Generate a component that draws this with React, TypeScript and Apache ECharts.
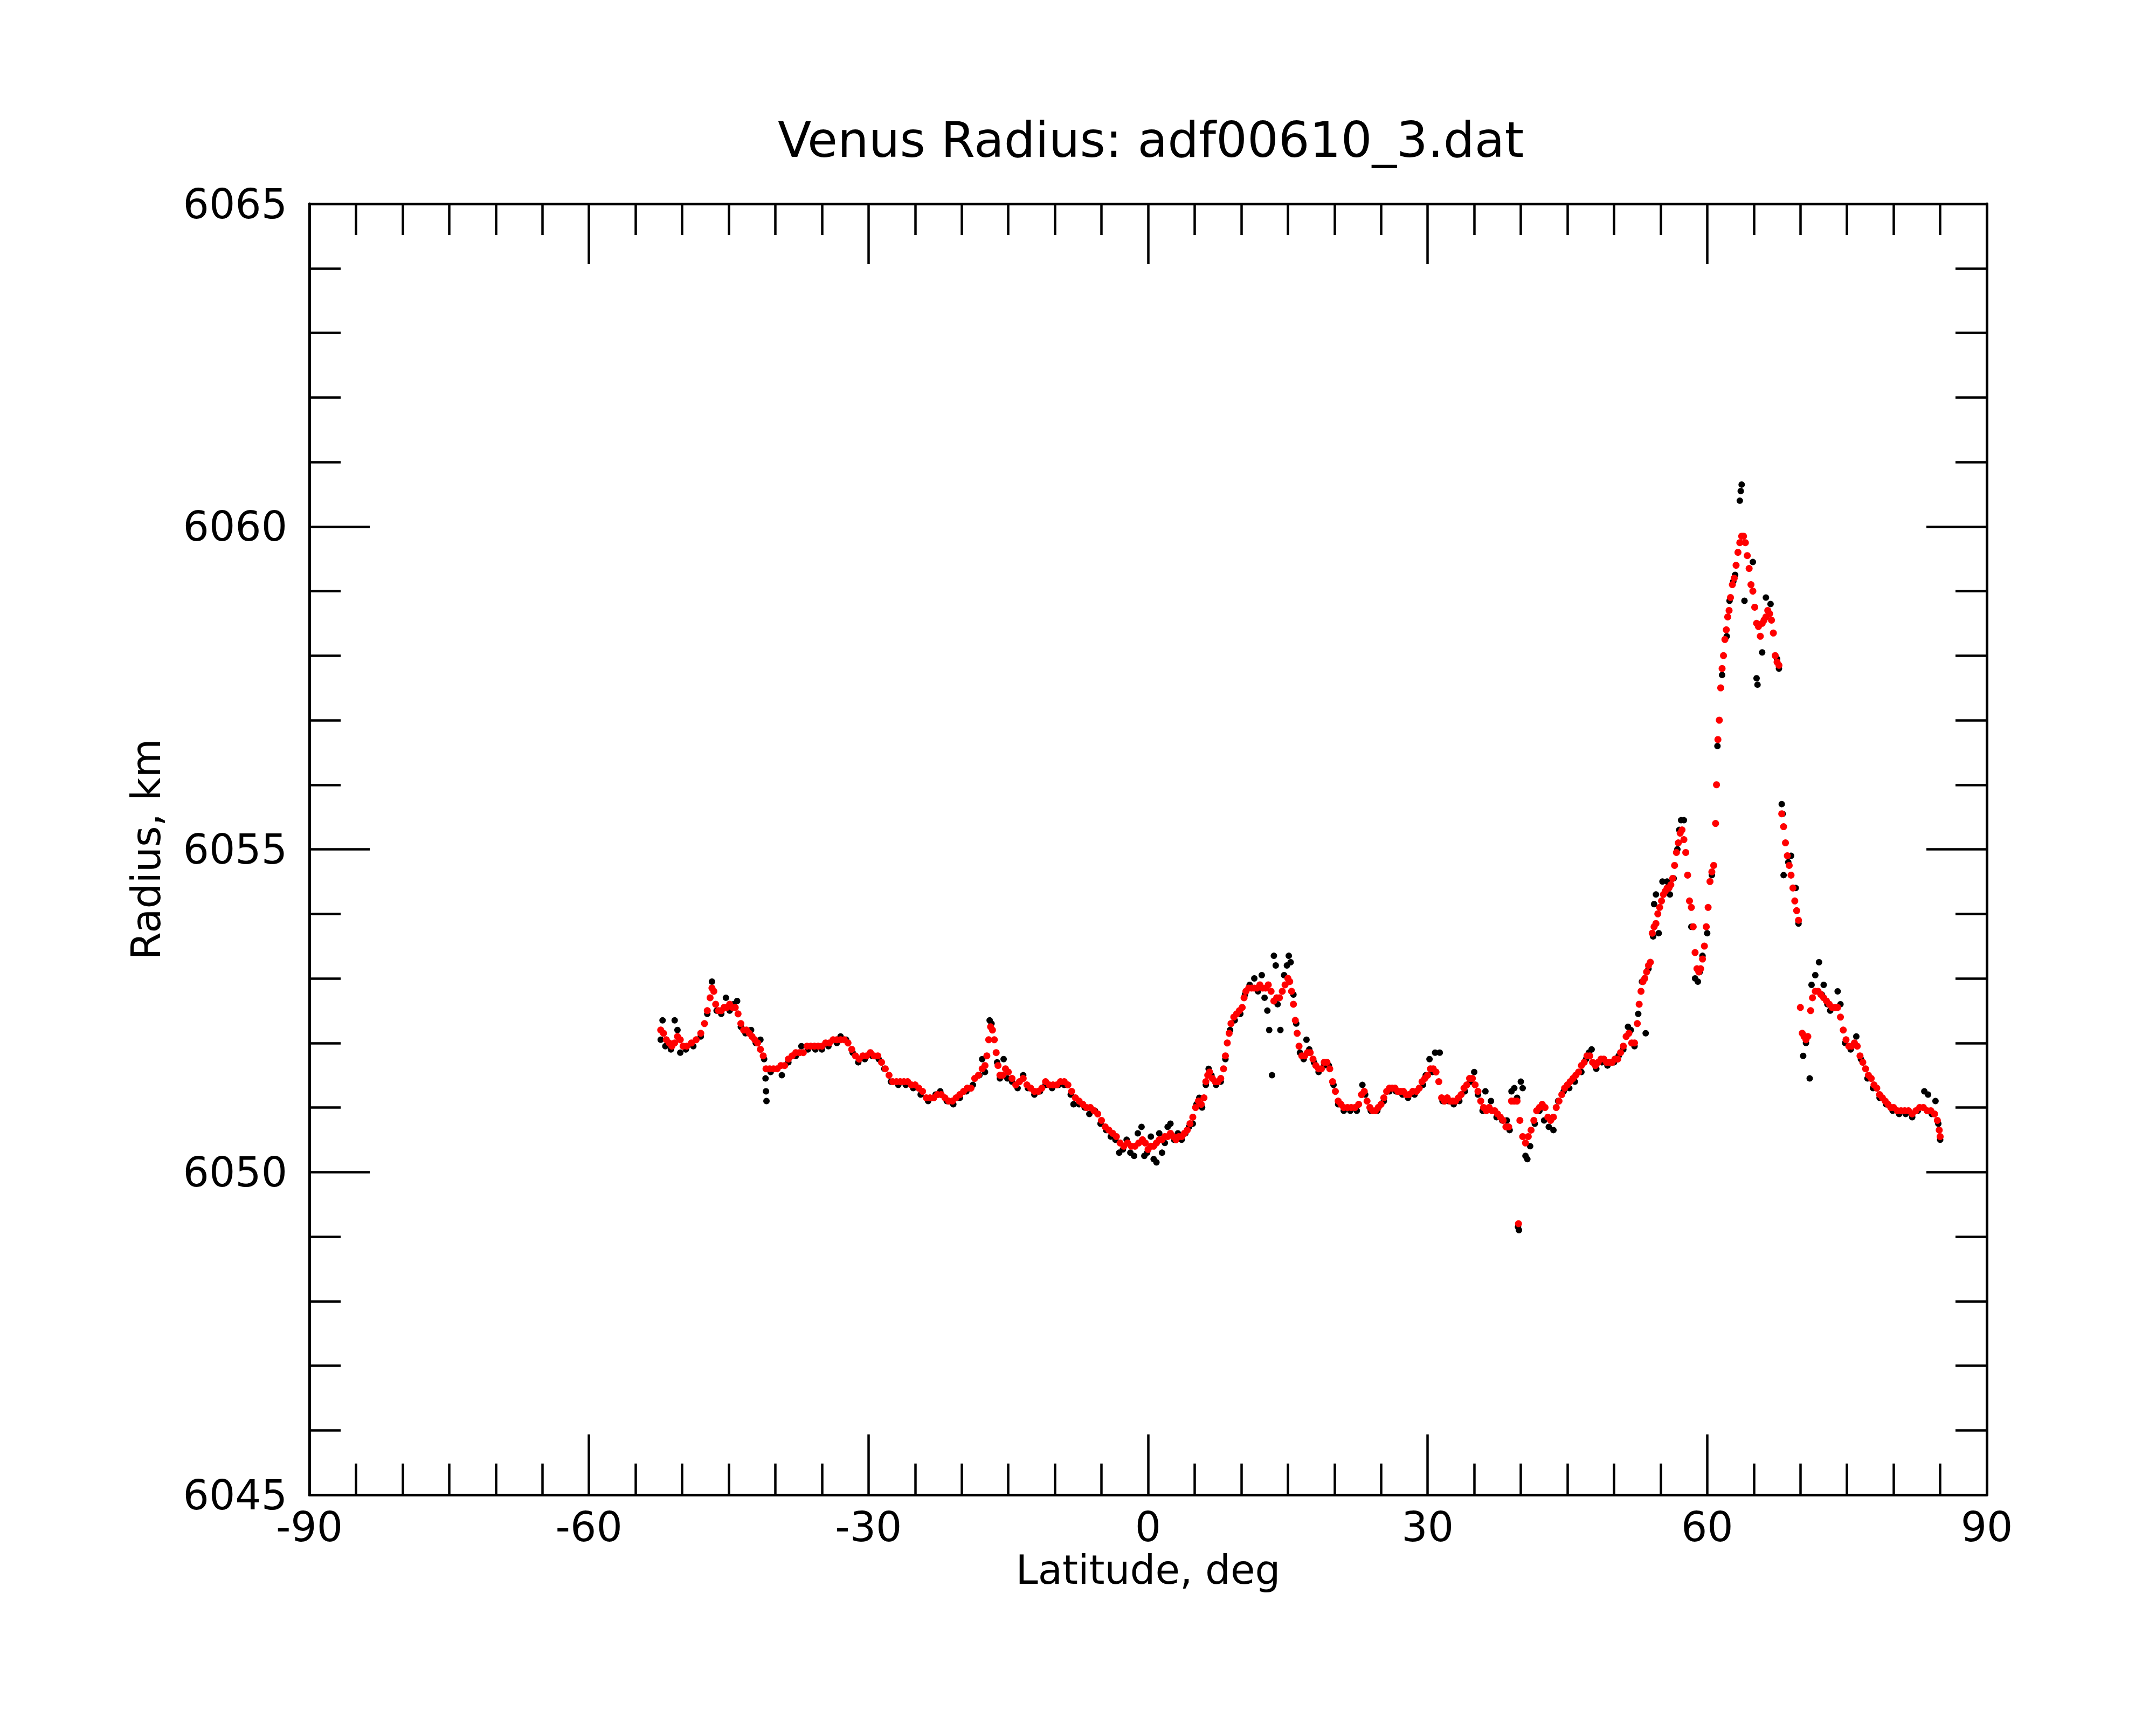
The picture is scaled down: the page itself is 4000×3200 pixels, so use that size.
import React, { useEffect, useRef } from "react";
import * as echarts from "echarts";

const titleText = "Venus Radius: adf00610_3.dat";
const xName = "Latitude, deg";
const yName = "Radius, km";

const xTicks = { min: -90, max: 90, interval: 30 };
const yTicks = { min: 6045, max: 6065, interval: 5 };

// red (smoothed) points: [latitude, radius]
const redPoints: number[][] = [
  [-52.3, 6052.2], [-52.0, 6052.15], [-51.7, 6052.05], [-51.4, 6052.0], [-51.1, 6051.95], [-50.8, 6052.0],
  [-50.5, 6052.1], [-50.2, 6052.05], [-49.9, 6051.95], [-49.5, 6051.95], [-49.0, 6052.0], [-48.5, 6052.05],
  [-48.0, 6052.15], [-47.6, 6052.3], [-47.3, 6052.5], [-47.0, 6052.7], [-46.8, 6052.85], [-46.6, 6052.8],
  [-46.4, 6052.6], [-46.1, 6052.5], [-45.8, 6052.5], [-45.5, 6052.55], [-45.2, 6052.55], [-44.9, 6052.6],
  [-44.6, 6052.55], [-44.3, 6052.55], [-44.0, 6052.45], [-43.7, 6052.3], [-43.4, 6052.2], [-43.1, 6052.2],
  [-42.8, 6052.15], [-42.5, 6052.1], [-42.2, 6052.05], [-41.9, 6052.0], [-41.6, 6051.9], [-41.3, 6051.8],
  [-41.0, 6051.6], [-40.6, 6051.6], [-40.2, 6051.6], [-39.8, 6051.6], [-39.4, 6051.65], [-39.0, 6051.65],
  [-38.6, 6051.75], [-38.2, 6051.8], [-37.8, 6051.85], [-37.4, 6051.85], [-37.0, 6051.85], [-36.6, 6051.95],
  [-36.2, 6051.95], [-35.8, 6051.95], [-35.4, 6051.95], [-35.0, 6051.95], [-34.6, 6052.0], [-34.2, 6052.0],
  [-33.8, 6052.05], [-33.4, 6052.05], [-33.0, 6052.05], [-32.6, 6052.05], [-32.2, 6052.0], [-31.8, 6051.9],
  [-31.4, 6051.8], [-31.0, 6051.75], [-30.6, 6051.8], [-30.2, 6051.8], [-29.8, 6051.85], [-29.4, 6051.8],
  [-29.0, 6051.8], [-28.6, 6051.7], [-28.2, 6051.6], [-27.8, 6051.5], [-27.4, 6051.4], [-27.0, 6051.4],
  [-26.6, 6051.4], [-26.2, 6051.4], [-25.8, 6051.4], [-25.4, 6051.35], [-25.0, 6051.35], [-24.6, 6051.3],
  [-24.2, 6051.25], [-23.8, 6051.15], [-23.4, 6051.15], [-23.0, 6051.15], [-22.6, 6051.2], [-22.2, 6051.2],
  [-21.8, 6051.15], [-21.4, 6051.1], [-21.0, 6051.1], [-20.6, 6051.15], [-20.2, 6051.2], [-19.8, 6051.25],
  [-19.4, 6051.3], [-19.0, 6051.3], [-18.6, 6051.45], [-18.2, 6051.5], [-17.8, 6051.6], [-17.5, 6051.65],
  [-17.3, 6051.8], [-17.1, 6052.05], [-16.9, 6052.25], [-16.7, 6052.2], [-16.5, 6052.05], [-16.3, 6051.85],
  [-16.1, 6051.65], [-15.9, 6051.5], [-15.6, 6051.5], [-15.3, 6051.6], [-15.0, 6051.55], [-14.6, 6051.45],
  [-14.2, 6051.35], [-13.8, 6051.4], [-13.4, 6051.45], [-13.0, 6051.35], [-12.6, 6051.3], [-12.2, 6051.25],
  [-11.8, 6051.25], [-11.4, 6051.3], [-11.0, 6051.4], [-10.6, 6051.35], [-10.2, 6051.35], [-9.8, 6051.35],
  [-9.4, 6051.4], [-9.0, 6051.4], [-8.6, 6051.35], [-8.2, 6051.25], [-7.8, 6051.15], [-7.4, 6051.1],
  [-7.0, 6051.05], [-6.6, 6051.0], [-6.2, 6051.0], [-5.8, 6050.95], [-5.4, 6050.9], [-5.0, 6050.8],
  [-4.6, 6050.7], [-4.2, 6050.65], [-3.8, 6050.6], [-3.4, 6050.55], [-3.0, 6050.45], [-2.6, 6050.4],
  [-2.2, 6050.45], [-1.8, 6050.4], [-1.4, 6050.4], [-1.0, 6050.45], [-0.6, 6050.5], [-0.3, 6050.45],
  [0.0, 6050.35], [0.3, 6050.4], [0.6, 6050.4], [0.9, 6050.45], [1.2, 6050.5], [1.5, 6050.5],
  [1.8, 6050.55], [2.1, 6050.55], [2.4, 6050.6], [2.7, 6050.55], [3.0, 6050.5], [3.3, 6050.55],
  [3.6, 6050.55], [3.9, 6050.6], [4.2, 6050.65], [4.5, 6050.75], [4.8, 6050.85], [5.1, 6051.0],
  [5.4, 6051.1], [5.7, 6051.05], [6.0, 6051.15], [6.2, 6051.4], [6.4, 6051.5], [6.6, 6051.55],
  [6.9, 6051.45], [7.2, 6051.4], [7.5, 6051.4], [7.8, 6051.45], [8.1, 6051.6], [8.3, 6051.8],
  [8.5, 6052.0], [8.7, 6052.15], [8.9, 6052.3], [9.2, 6052.4], [9.5, 6052.45], [9.8, 6052.5],
  [10.1, 6052.55], [10.3, 6052.7], [10.5, 6052.8], [10.8, 6052.85], [11.1, 6052.85], [11.4, 6052.85],
  [11.7, 6052.85], [12.0, 6052.9], [12.3, 6052.85], [12.6, 6052.85], [12.9, 6052.9], [13.2, 6052.8],
  [13.5, 6052.65], [13.8, 6052.7], [14.1, 6052.7], [14.4, 6052.8], [14.7, 6052.9], [15.0, 6053.0],
  [15.2, 6052.95], [15.4, 6052.8], [15.6, 6052.6], [15.8, 6052.35], [16.0, 6052.15], [16.2, 6051.95],
  [16.5, 6051.8], [16.8, 6051.8], [17.1, 6051.85], [17.4, 6051.85], [17.7, 6051.75], [18.0, 6051.65],
  [18.3, 6051.6], [18.6, 6051.6], [18.9, 6051.7], [19.2, 6051.7], [19.5, 6051.6], [19.8, 6051.4],
  [20.1, 6051.25], [20.4, 6051.1], [20.7, 6051.05], [21.0, 6051.0], [21.4, 6051.0], [21.8, 6051.0],
  [22.2, 6051.0], [22.6, 6051.05], [22.9, 6051.2], [23.2, 6051.25], [23.5, 6051.1], [23.8, 6051.0],
  [24.1, 6050.95], [24.4, 6050.95], [24.7, 6051.0], [25.0, 6051.05], [25.3, 6051.15], [25.6, 6051.25],
  [25.9, 6051.3], [26.2, 6051.3], [26.5, 6051.3], [26.8, 6051.25], [27.1, 6051.25], [27.4, 6051.25],
  [27.7, 6051.2], [28.0, 6051.2], [28.4, 6051.25], [28.8, 6051.25], [29.1, 6051.3], [29.4, 6051.4],
  [29.7, 6051.45], [30.0, 6051.5], [30.3, 6051.6], [30.6, 6051.6], [30.9, 6051.55], [31.2, 6051.4],
  [31.5, 6051.15], [31.8, 6051.1], [32.1, 6051.15], [32.4, 6051.1], [32.7, 6051.1], [33.0, 6051.1],
  [33.3, 6051.15], [33.6, 6051.2], [33.9, 6051.3], [34.2, 6051.35], [34.5, 6051.45], [34.8, 6051.45],
  [35.1, 6051.35], [35.4, 6051.25], [35.7, 6051.1], [36.0, 6051.0], [36.3, 6050.95], [36.6, 6051.0],
  [36.9, 6050.95], [37.2, 6050.95], [37.5, 6050.9], [37.8, 6050.85], [38.1, 6050.8], [38.4, 6050.7],
  [38.7, 6050.7], [39.0, 6051.1], [39.3, 6051.1], [39.6, 6051.1], [39.75, 6049.2], [39.9, 6050.8],
  [40.2, 6050.55], [40.5, 6050.45], [40.8, 6050.55], [41.1, 6050.65], [41.4, 6050.8], [41.7, 6050.95],
  [42.0, 6051.0], [42.3, 6051.05], [42.6, 6051.0], [42.9, 6050.85], [43.2, 6050.8], [43.5, 6050.85],
  [43.8, 6051.0], [44.1, 6051.1], [44.4, 6051.2], [44.7, 6051.3], [45.0, 6051.35], [45.3, 6051.4],
  [45.6, 6051.45], [45.9, 6051.5], [46.2, 6051.55], [46.5, 6051.65], [46.8, 6051.7], [47.1, 6051.8],
  [47.4, 6051.8], [47.7, 6051.7], [48.0, 6051.65], [48.3, 6051.7], [48.6, 6051.75], [48.9, 6051.75],
  [49.2, 6051.7], [49.5, 6051.7], [49.8, 6051.7], [50.1, 6051.75], [50.4, 6051.75], [50.7, 6051.85],
  [51.0, 6051.95], [51.3, 6052.1], [51.6, 6052.15], [51.9, 6052.0], [52.2, 6052.0], [52.5, 6052.3],
  [52.7, 6052.6], [52.9, 6052.8], [53.1, 6052.95], [53.3, 6053.0], [53.5, 6053.1], [53.7, 6053.2],
  [53.9, 6053.25], [54.1, 6053.7], [54.3, 6053.8], [54.5, 6053.85], [54.7, 6054.0], [54.9, 6054.1],
  [55.1, 6054.2], [55.3, 6054.3], [55.5, 6054.35], [55.7, 6054.4], [55.9, 6054.4], [56.1, 6054.45],
  [56.3, 6054.55], [56.5, 6054.75], [56.7, 6054.95], [56.9, 6055.1], [57.1, 6055.25], [57.3, 6055.3],
  [57.5, 6055.15], [57.7, 6054.95], [57.9, 6054.6], [58.1, 6054.2], [58.3, 6054.1], [58.5, 6053.8],
  [58.7, 6053.4], [58.9, 6053.15], [59.1, 6053.1], [59.3, 6053.15], [59.5, 6053.3], [59.7, 6053.5],
  [59.9, 6053.8], [60.1, 6054.1], [60.3, 6054.5], [60.5, 6054.65], [60.7, 6054.75], [60.9, 6055.4],
  [61.0, 6056.0], [61.15, 6056.7], [61.3, 6057.0], [61.45, 6057.5], [61.6, 6057.8], [61.75, 6058.0],
  [61.9, 6058.25], [62.05, 6058.4], [62.2, 6058.6], [62.35, 6058.7], [62.5, 6058.9], [62.7, 6059.1],
  [62.9, 6059.2], [63.1, 6059.4], [63.3, 6059.6], [63.5, 6059.75], [63.7, 6059.85], [63.9, 6059.85],
  [64.1, 6059.75], [64.3, 6059.55], [64.5, 6059.35], [64.7, 6059.1], [64.9, 6059.0], [65.1, 6058.75],
  [65.3, 6058.5], [65.5, 6058.45], [65.7, 6058.3], [65.9, 6058.5], [66.1, 6058.55], [66.3, 6058.6],
  [66.5, 6058.7], [66.7, 6058.65], [66.9, 6058.55], [67.1, 6058.35], [67.3, 6058.0], [67.5, 6057.9],
  [67.7, 6057.85], [68.0, 6055.55], [68.2, 6055.35], [68.4, 6055.1], [68.6, 6054.9], [68.8, 6054.75],
  [69.0, 6054.6], [69.2, 6054.4], [69.4, 6054.2], [69.6, 6054.05], [69.8, 6053.9], [70.0, 6052.55],
  [70.2, 6052.15], [70.4, 6052.1], [70.6, 6052.05], [70.8, 6052.1], [71.1, 6052.5], [71.3, 6052.7],
  [71.6, 6052.8], [71.9, 6052.8], [72.2, 6052.75], [72.5, 6052.7], [72.8, 6052.65], [73.1, 6052.6],
  [73.4, 6052.55], [73.7, 6052.55], [74.0, 6052.55], [74.3, 6052.4], [74.6, 6052.2], [74.9, 6052.05],
  [75.2, 6051.95], [75.5, 6051.95], [75.8, 6052.0], [76.1, 6051.95], [76.4, 6051.8], [76.7, 6051.7],
  [77.0, 6051.6], [77.3, 6051.5], [77.6, 6051.45], [77.9, 6051.35], [78.2, 6051.3], [78.5, 6051.2],
  [78.8, 6051.15], [79.1, 6051.1], [79.4, 6051.05], [79.7, 6051.0], [80.0, 6051.0], [80.4, 6050.95],
  [80.8, 6050.95], [81.2, 6050.95], [81.6, 6050.95], [82.0, 6050.9], [82.4, 6050.95], [82.8, 6051.0],
  [83.2, 6051.0], [83.6, 6050.95], [84.0, 6050.95], [84.4, 6050.9], [84.7, 6050.8], [84.9, 6050.65],
  [85.0, 6050.55],
];

// black (raw) points: [latitude, radius]
const blackPoints: number[][] = [
  [-52.3, 6052.05], [-52.1, 6052.35], [-51.8, 6051.95], [-51.2, 6051.9], [-50.8, 6052.35], [-50.5, 6052.2],
  [-50.2, 6051.85], [-49.6, 6051.9], [-48.8, 6051.95], [-48.0, 6052.1], [-47.3, 6052.45], [-46.8, 6052.95],
  [-46.3, 6052.5], [-45.8, 6052.45], [-45.3, 6052.7], [-44.9, 6052.5], [-44.5, 6052.6], [-44.1, 6052.65],
  [-43.7, 6052.25], [-43.2, 6052.15], [-42.6, 6052.2], [-42.1, 6052.0], [-41.6, 6052.05], [-41.2, 6051.75],
  [-41.05, 6051.45], [-41.0, 6051.25], [-40.95, 6051.1], [-40.5, 6051.55], [-39.9, 6051.6], [-39.3, 6051.5],
  [-38.6, 6051.7], [-37.8, 6051.8], [-37.2, 6051.95], [-36.5, 6051.9], [-35.7, 6051.9], [-35.0, 6051.9],
  [-34.3, 6051.95], [-33.4, 6052.0], [-33.0, 6052.1], [-32.4, 6052.05], [-31.7, 6051.85], [-31.1, 6051.7],
  [-30.4, 6051.75], [-29.6, 6051.8], [-28.9, 6051.75], [-28.3, 6051.6], [-27.6, 6051.4], [-26.8, 6051.35],
  [-26.0, 6051.35], [-25.2, 6051.3], [-24.4, 6051.2], [-23.6, 6051.1], [-22.8, 6051.2], [-22.3, 6051.25],
  [-21.6, 6051.1], [-20.9, 6051.05], [-20.2, 6051.15], [-19.5, 6051.25], [-18.8, 6051.35], [-18.1, 6051.5],
  [-17.8, 6051.75], [-17.5, 6051.55], [-17.0, 6052.35], [-16.8, 6052.3], [-16.2, 6051.7], [-15.9, 6051.45],
  [-15.5, 6051.75], [-15.1, 6051.45], [-14.6, 6051.4], [-14.0, 6051.3], [-13.4, 6051.5], [-12.9, 6051.3],
  [-12.2, 6051.2], [-11.6, 6051.25], [-11.0, 6051.35], [-10.3, 6051.3], [-9.6, 6051.35], [-9.0, 6051.35],
  [-8.3, 6051.2], [-8.0, 6051.05], [-7.4, 6051.05], [-6.8, 6051.0], [-6.3, 6050.9], [-5.7, 6050.95],
  [-5.1, 6050.75], [-4.5, 6050.65], [-4.0, 6050.55], [-3.5, 6050.5], [-3.1, 6050.3], [-2.7, 6050.35],
  [-2.3, 6050.5], [-1.9, 6050.3], [-1.5, 6050.25], [-1.1, 6050.6], [-0.7, 6050.7], [-0.4, 6050.25],
  [-0.1, 6050.3], [0.3, 6050.55], [0.6, 6050.2], [0.9, 6050.15], [1.2, 6050.6], [1.5, 6050.3],
  [1.8, 6050.45], [2.1, 6050.7], [2.4, 6050.75], [2.8, 6050.5], [3.2, 6050.6], [3.6, 6050.5],
  [4.0, 6050.6], [4.4, 6050.7], [4.8, 6050.75], [5.2, 6051.05], [5.5, 6051.15], [5.8, 6051.0],
  [6.2, 6051.35], [6.5, 6051.6], [6.8, 6051.5], [7.3, 6051.35], [7.8, 6051.4], [8.3, 6051.75],
  [8.8, 6052.2], [9.3, 6052.35], [9.9, 6052.45], [10.4, 6052.75], [10.9, 6052.9], [11.4, 6053.0],
  [11.8, 6052.8], [12.2, 6053.05], [12.5, 6052.7], [12.8, 6052.5], [13.0, 6052.2], [13.3, 6051.5],
  [13.5, 6053.35], [13.7, 6053.2], [13.9, 6052.6], [14.2, 6052.2], [14.6, 6053.05], [14.9, 6053.2],
  [15.1, 6053.35], [15.3, 6053.25], [15.6, 6052.75], [15.9, 6052.3], [16.3, 6051.85], [16.7, 6051.75],
  [17.0, 6052.05], [17.3, 6051.9], [17.8, 6051.7], [18.3, 6051.55], [18.9, 6051.65], [19.4, 6051.65],
  [19.9, 6051.35], [20.4, 6051.05], [21.0, 6050.95], [21.7, 6050.95], [22.4, 6050.95], [23.0, 6051.35],
  [23.3, 6051.2], [23.9, 6050.95], [24.6, 6050.95], [25.3, 6051.1], [25.9, 6051.25], [26.6, 6051.25],
  [27.3, 6051.2], [27.9, 6051.15], [28.6, 6051.2], [29.1, 6051.3], [29.5, 6051.35], [29.8, 6051.5],
  [30.2, 6051.75], [30.5, 6051.55], [30.8, 6051.85], [31.3, 6051.85], [31.6, 6051.1], [32.2, 6051.1],
  [32.8, 6051.05], [33.4, 6051.1], [34.0, 6051.25], [34.6, 6051.4], [35.0, 6051.55], [35.4, 6051.2],
  [35.9, 6050.95], [36.2, 6051.25], [36.8, 6051.1], [37.4, 6050.85], [38.0, 6050.8], [38.5, 6050.8],
  [38.8, 6050.65], [39.0, 6051.25], [39.3, 6051.3], [39.6, 6051.15], [39.7, 6049.15], [39.8, 6049.1],
  [40.0, 6051.4], [40.2, 6051.3], [40.5, 6050.25], [40.7, 6050.2], [41.0, 6050.4], [41.5, 6050.75],
  [42.0, 6050.95], [42.5, 6050.8], [43.0, 6050.7], [43.5, 6050.65], [44.0, 6051.1], [44.6, 6051.25],
  [45.2, 6051.3], [45.8, 6051.4], [46.5, 6051.55], [47.0, 6051.75], [47.3, 6051.85], [47.6, 6051.9],
  [48.1, 6051.6], [48.7, 6051.7], [49.3, 6051.65], [50.0, 6051.7], [50.5, 6051.8], [51.0, 6051.9],
  [51.5, 6052.25], [51.8, 6052.2], [52.2, 6051.95], [52.6, 6052.45], [53.0, 6052.95], [53.4, 6052.15],
  [53.7, 6053.15], [54.2, 6053.65], [54.3, 6054.15], [54.5, 6054.3], [54.8, 6053.7], [55.2, 6054.5],
  [55.7, 6054.5], [56.0, 6054.3], [56.4, 6054.55], [56.8, 6055.0], [57.0, 6055.3], [57.2, 6055.45],
  [57.5, 6055.45], [58.3, 6053.8], [58.7, 6053.0], [59.0, 6052.95], [59.2, 6053.1], [59.5, 6053.35],
  [60.0, 6053.7], [60.5, 6054.6], [61.1, 6056.6], [61.6, 6057.7], [62.1, 6058.3], [62.4, 6058.85],
  [62.8, 6059.15], [63.0, 6059.25], [63.5, 6060.4], [63.6, 6060.55], [63.7, 6060.65], [64.0, 6058.85],
  [64.9, 6059.45], [65.3, 6057.65], [65.4, 6057.55], [65.9, 6058.05], [66.3, 6058.9], [66.8, 6058.8],
  [67.5, 6057.95], [67.7, 6057.8], [68.0, 6055.7], [68.1, 6055.55], [68.2, 6054.6], [68.7, 6054.8],
  [69.0, 6054.9], [69.5, 6054.4], [69.8, 6053.85], [70.3, 6051.8], [70.6, 6052.0], [71.0, 6051.45],
  [71.2, 6052.9], [71.6, 6053.05], [72.0, 6053.25], [72.3, 6052.75], [72.5, 6052.9], [72.9, 6052.6],
  [73.2, 6052.5], [73.7, 6052.55], [74.0, 6052.8], [74.3, 6052.6], [74.8, 6052.0], [75.4, 6051.9],
  [76.0, 6052.1], [76.5, 6051.75], [77.2, 6051.45], [77.8, 6051.3], [78.5, 6051.15], [79.2, 6051.05],
  [79.9, 6050.95], [80.6, 6050.9], [81.3, 6050.9], [82.0, 6050.85], [82.6, 6050.95], [83.3, 6051.25],
  [83.7, 6051.2], [84.1, 6050.9], [84.5, 6051.1], [84.8, 6050.75], [85.0, 6050.5],
];

const FONT = "DejaVu Sans";
const LINE_W = 5;
const TICK_W = 4.5;

function axisCommon(showLabel: boolean, labelMargin: number, minorSplit: number) {
  return {
    axisLine: { show: true, onZero: false, lineStyle: { color: "#000", width: LINE_W } },
    axisTick: { show: true, inside: true, length: 112, lineStyle: { color: "#000", width: TICK_W } },
    minorTick: { show: true, splitNumber: minorSplit, length: 58, lineStyle: { color: "#000", width: TICK_W } },
    splitLine: { show: false },
    minorSplitLine: { show: false },
    axisLabel: {
      show: showLabel,
      color: "#000",
      fontFamily: FONT,
      fontSize: 76,
      margin: labelMargin,
      formatter: (v: number) => String(v),
    },
  };
}

export default function App() {
  const ref = useRef<HTMLDivElement>(null);
  useEffect(() => {
    if (!ref.current) return;
    const chart = echarts.init(ref.current, undefined, { renderer: "svg", width: 4000, height: 3200 });
    const option: any = {
      animation: false,
      backgroundColor: "#fff",
      title: {
        text: titleText,
        left: 2130,
        top: 209,
        textAlign: "center",
        textStyle: { fontFamily: FONT, fontSize: 91, fontWeight: "normal", color: "#000" },
      },
      grid: { left: 574, right: 314, top: 378, bottom: 427, containLabel: false },
      xAxis: [
        {
          type: "value",
          position: "bottom",
          min: xTicks.min,
          max: xTicks.max,
          interval: xTicks.interval,
          name: xName,
          nameLocation: "middle",
          nameGap: 102,
          nameTextStyle: { fontFamily: FONT, fontSize: 74, color: "#000" },
          ...axisCommon(true, 21, 6),
        },
        {
          type: "value",
          position: "top",
          min: xTicks.min,
          max: xTicks.max,
          interval: xTicks.interval,
          ...axisCommon(false, 21, 6),
        },
      ],
      yAxis: [
        {
          type: "value",
          position: "left",
          min: yTicks.min,
          max: yTicks.max,
          interval: yTicks.interval,
          name: yName,
          nameLocation: "middle",
          nameGap: 266,
          nameTextStyle: { fontFamily: FONT, fontSize: 74, color: "#000" },
          ...axisCommon(true, 41, 5),
        },
        {
          type: "value",
          position: "right",
          min: yTicks.min,
          max: yTicks.max,
          interval: yTicks.interval,
          ...axisCommon(false, 41, 5),
        },
      ],
      series: [
        {
          type: "scatter",
          name: "raw",
          xAxisIndex: 0,
          yAxisIndex: 0,
          data: blackPoints,
          symbol: "circle",
          symbolSize: 12,
          itemStyle: { color: "#000", opacity: 1 },
          silent: true,
        },
        {
          type: "scatter",
          name: "smoothed",
          xAxisIndex: 0,
          yAxisIndex: 0,
          data: redPoints,
          symbol: "circle",
          symbolSize: 13,
          itemStyle: { color: "#ff0000", opacity: 1 },
          silent: true,
        },
      ],
    };
    chart.setOption(option);
    return () => chart.dispose();
  }, []);
  return (
    <div
      ref={ref}
      style={{ position: "fixed", left: 0, top: 0, width: 4000, height: 3200, background: "#fff" }}
    />
  );
}
